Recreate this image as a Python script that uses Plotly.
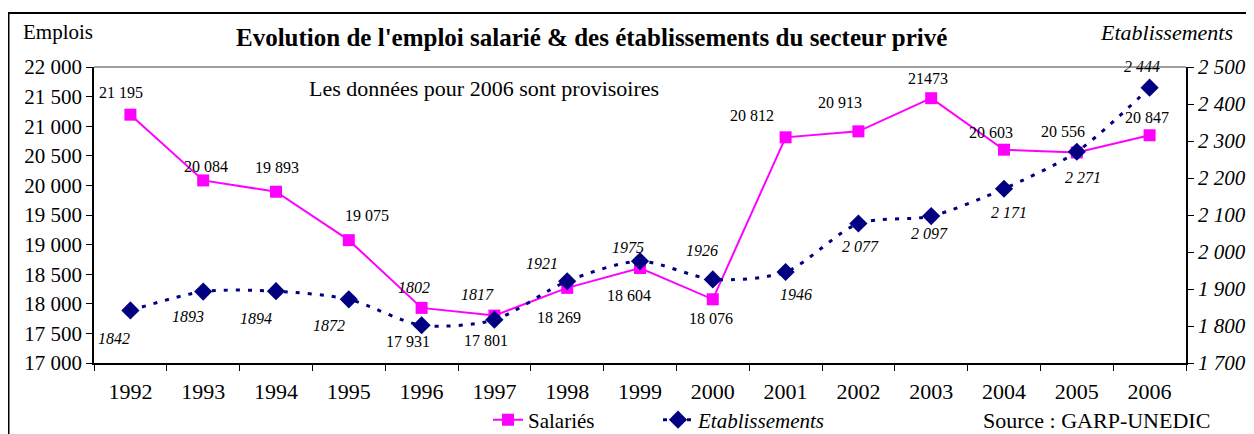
import plotly.graph_objects as go

# ---------------- data ----------------
years = [str(y) for y in range(1992, 2007)]
salaries = [21195, 20084, 19893, 19075, 17931, 17801, 18269, 18604, 18076,
            20812, 20913, 21473, 20603, 20556, 20847]
etablissements = [1842, 1893, 1894, 1872, 1802, 1817, 1921, 1975, 1926,
                  1946, 2077, 2097, 2171, 2271, 2444]
sal_labels = ["21 195", "20 084", "19 893", "19 075", "17 931", "17 801", "18 269",
              "18 604", "18 076", "20 812", "20 913", "21473", "20 603", "20 556", "20 847"]
etab_labels = ["1842", "1893", "1894", "1872", "1802", "1817", "1921", "1975", "1926",
               "1946", "2 077", "2 097", "2 171", "2 271", "2 444"]

# ---------------- label placement (pixels, style only) ----------------
sal_dx = [-9, 3, 1, 18, -14, -8, -8, -11, -2, -34, -18, -3, -13, -14, -3]
sal_dy = [-22, -14, -24, -25, 34, 25, 30, 27, 19, -22, -29, -20, -17, -21, -18]
etab_dx = [-16, -15, -20, -20, -8, -17, -25, -12, -11, 10, 2, -2, 5, 6, -8]
etab_dy = [28, 25, 27, 26, -38, -25, -18, -14, -29, 23, 23, 17, 24, 26, -21]

SERIF = "Liberation Serif"
MAGENTA = "#FF00FF"
NAVY = "#000080"

# page offset of the figure (body margin)
OFF = 8
W, H = 1254, 434
# plot area in page pixels: x 94..1186, y 67..363
L = 94 - OFF
R = W - (1186 - OFF)
T = 67 - OFF
B = H - (363 - OFF)
pw, ph = W - L - R, H - T - B


def px(xp):
    return (xp - OFF - L) / pw


def py(yp):
    return (H - B - (yp - OFF)) / ph


fig = go.Figure()
fig.add_trace(go.Scatter(
    x=years, y=salaries, name="Salariés", mode="lines+markers",
    line=dict(color=MAGENTA, width=2),
    marker=dict(symbol="square", size=12, color=MAGENTA),
    yaxis="y"))
fig.add_trace(go.Scatter(
    x=years, y=etablissements, name="<i>Etablissements</i>", mode="lines+markers",
    line=dict(color=NAVY, width=3, dash="4px,8px", shape="spline", smoothing=0.8),
    marker=dict(symbol="diamond", size=14, color=NAVY),
    yaxis="y2"))

annotations = []
for i, yr in enumerate(years):
    annotations.append(dict(x=i, y=salaries[i], xref="x", yref="y", text=sal_labels[i],
                            showarrow=False, xshift=sal_dx[i], yshift=-sal_dy[i],
                            xanchor="center", yanchor="middle",
                            font=dict(family=SERIF, size=16, color="black")))
    annotations.append(dict(x=i, y=etablissements[i], xref="x", yref="y2", text=etab_labels[i],
                            showarrow=False, xshift=etab_dx[i], yshift=-etab_dy[i],
                            xanchor="center", yanchor="middle",
                            font=dict(family=SERIF, size=16, color="black", style="italic")))


def note(xp, yp, text, size, style="normal"):
    return dict(xref="paper", yref="paper", x=px(xp), y=py(yp), text=text,
                showarrow=False, xanchor="center", yanchor="middle",
                font=dict(family=SERIF, size=size, color="black", style=style))


annotations += [
    note(591, 38, "<b>Evolution de l'emploi salarié & des établissements du secteur privé</b>", 25),
    note(58, 32, "Emplois", 21),
    note(1166, 32, "Etablissements", 22, "italic"),
    note(484, 88, "Les données pour 2006 sont provisoires", 22),
    note(1096, 420, "Source : GARP-UNEDIC", 22),
]

shapes = [
    # grey top border of plot area
    dict(type="line", xref="paper", yref="paper", x0=0, x1=1, y0=1, y1=1,
         line=dict(color="#808080", width=1.5)),
    # outer chart frame
    dict(type="rect", xref="paper", yref="paper", x0=px(8.5), x1=px(1300),
         y0=py(470), y1=py(13), line=dict(color="black", width=2)),
]

fig.update_layout(
    width=W, height=H,
    margin=dict(l=L, r=R, t=T, b=B, autoexpand=False),
    paper_bgcolor="white", plot_bgcolor="white",
    separators=", ",
    font=dict(family=SERIF, color="black"),
    showlegend=True,
    legend=dict(orientation="h", x=px(488), xanchor="left", y=py(420), yanchor="middle",
                entrywidth=125, entrywidthmode="pixels",
                font=dict(family=SERIF, size=21, color="black"), bgcolor="rgba(0,0,0,0)"),
    xaxis=dict(type="category", range=[-0.5, 14.5], showgrid=False, zeroline=False, showline=True,
               linecolor="black", linewidth=1.5, ticks="outside", ticklen=6,
               tickcolor="black", tickson="boundaries", tickangle=0, ticklabelstandoff=8,
               tickfont=dict(family=SERIF, size=22, color="black")),
    xaxis2=dict(overlaying="x", anchor="y", side="bottom", range=[-0.5, 14.5], tick0=-0.5, dtick=1,
                ticks="inside", ticklen=5, tickcolor="black", showticklabels=False,
                showgrid=False, zeroline=False, showline=False),
    yaxis=dict(range=[17000, 22000], dtick=500, tickformat=",d", showgrid=False,
               zeroline=False, showline=True, linecolor="black", linewidth=1.5,
               ticks="outside", ticklen=6, tickcolor="black",
               tickfont=dict(family=SERIF, size=21, color="black")),
    yaxis3=dict(range=[17000, 22000], dtick=500, overlaying="y", side="left", anchor="x",
                ticks="inside", ticklen=6, tickcolor="black", showticklabels=False,
                showgrid=False, zeroline=False, showline=False),
    yaxis2=dict(range=[1700, 2500], dtick=100, tickformat=",d", overlaying="y", side="right",
                showgrid=False, zeroline=False, showline=True, linecolor="black", linewidth=1.5,
                ticks="outside", ticklen=6, tickcolor="black",
                tickfont=dict(family=SERIF, size=21, color="black", style="italic")),
    yaxis4=dict(range=[1700, 2500], dtick=100, overlaying="y", side="right", anchor="x",
                ticks="inside", ticklen=6, tickcolor="black", showticklabels=False,
                showgrid=False, zeroline=False, showline=False),
    annotations=annotations,
    shapes=shapes,
)

fig.write_html("out.html")
